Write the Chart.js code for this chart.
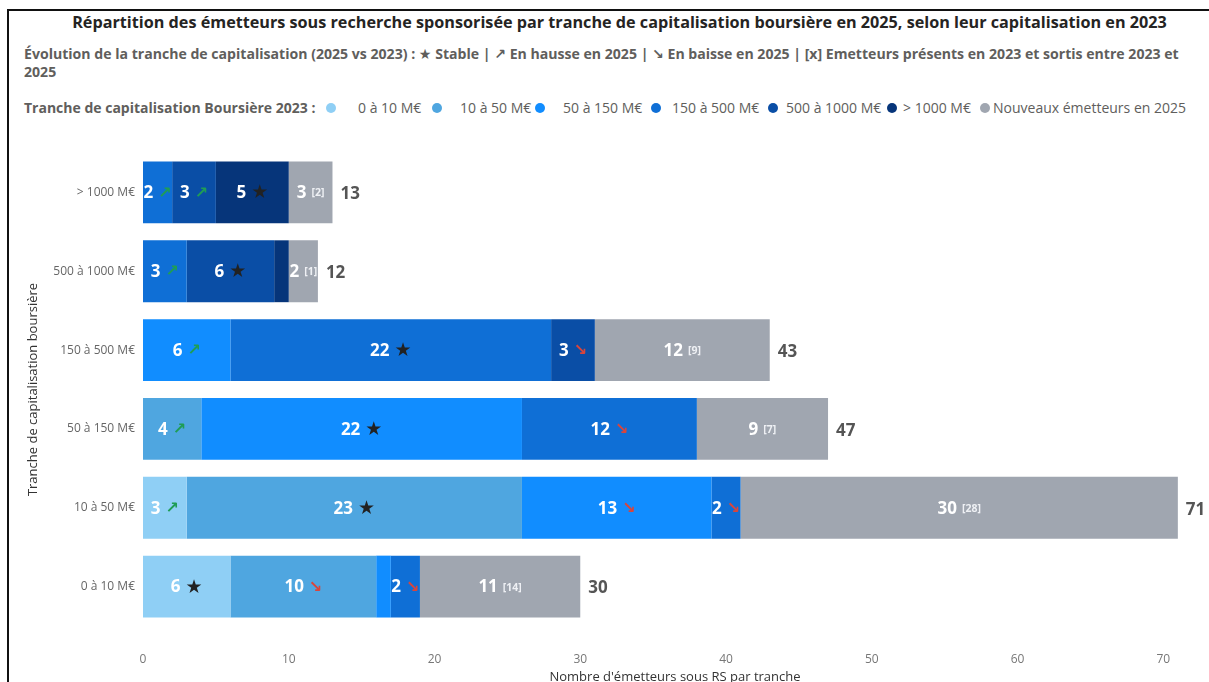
<!DOCTYPE html>
<html lang="fr">
<head>
<meta charset="utf-8">
<title>Répartition des émetteurs sous recherche sponsorisée</title>
<script src="https://cdn.jsdelivr.net/npm/chart.js@4.4.1/dist/chart.umd.min.js"></script>
<style>
  html, body { margin: 0; padding: 0; background: #fff; overflow: hidden; }
  body { width: 1209px; height: 682px; position: relative; font-family: "Open Sans", "Noto Sans", "DejaVu Sans", sans-serif; }
  #frame { position: absolute; left: 7px; top: 9px; width: 1210px; height: 700px; border-top: 2px solid #111; border-left: 2px solid #111; }
  #title { position: absolute; left: 30px; width: 1179px; top: 11px; text-align: center; font-size: 16.2px; font-weight: 700; color: #252423; white-space: nowrap; line-height: 22px; }
  #subtitle { position: absolute; left: 24px; top: 45px; font-size: 14.1px; font-weight: 700; color: #605e5c; line-height: 18px; white-space: nowrap; }
  #legend { position: absolute; left: 24px; top: 98px; height: 20px; width: 1180px; font-size: 14px; color: #605e5c; line-height: 20px; }
  #legend .lt { position: absolute; left: 0; font-weight: 700; white-space: nowrap; }
  #legend .dot { position: absolute; top: 5px; width: 10px; height: 10px; border-radius: 50%; }
  #legend .lbl { position: absolute; white-space: nowrap; }
  canvas { position: absolute; left: 0; top: 0; }
</style>
</head>
<body>
<div id="frame"></div>
<div id="title">Répartition des émetteurs sous recherche sponsorisée par tranche de capitalisation boursière en 2025, selon leur capitalisation en 2023</div>
<div id="subtitle">Évolution de la tranche de capitalisation (2025 vs 2023) : ★ Stable | ↗ En hausse en 2025 | ↘ En baisse en 2025 | [x] Emetteurs présents en 2023 et sortis entre 2023 et<br>2025</div>
<div id="legend"><span class="lt">Tranche de capitalisation Boursière 2023 :</span></div>
<canvas id="chart" width="1209" height="690"></canvas>
<script>
// categories = tranche 2025 (top to bottom)
const categories = ['> 1000 M€', '500 à 1000 M€', '150 à 500 M€', '50 à 150 M€', '10 à 50 M€', '0 à 10 M€'];

// series = tranche 2023
const tranches2023 = ['0 à 10 M€', '10 à 50 M€', '50 à 150 M€', '150 à 500 M€', '500 à 1000 M€', '> 1000 M€'];
const from0to10     = [0, 0, 0, 0, 3, 6];
const from10to50    = [0, 0, 0, 4, 23, 10];
const from50to150   = [0, 0, 6, 22, 13, 1];
const from150to500  = [2, 3, 22, 12, 2, 2];
const from500to1000 = [3, 6, 3, 0, 0, 0];
const fromOver1000  = [5, 1, 0, 0, 0, 0];
const newLabel = 'Nouveaux émetteurs en 2025';
const newIssuers    = [3, 2, 12, 9, 30, 11];
const exitedIssuers = [2, 1, 9, 7, 28, 14];   // [x] sortis entre 2023 et 2025

const xTicks = [0, 10, 20, 30, 40, 50, 60, 70];

const colors = ['#8fcff5', '#4fa6e0', '#118dff', '#0f6fd6', '#0a4ea6', '#06357a', '#a0a6b0'];
const FONT = '"Open Sans", "Noto Sans", "DejaVu Sans", sans-serif';

// legend (html)
const legendDotX = [302, 408, 511, 627, 744, 863, 956];
const legendTextX = [334, 436, 539, 648, 762, 879, 969];
const legendEl = document.getElementById('legend');
[...tranches2023, newLabel].forEach((name, i) => {
    const d = document.createElement('span');
    d.className = 'dot';
    d.style.left = legendDotX[i] + 'px';
    d.style.background = colors[i];
    legendEl.appendChild(d);
    const t = document.createElement('span');
    t.className = 'lbl';
    t.style.left = legendTextX[i] + 'px';
    t.textContent = name;
    legendEl.appendChild(t);
});

const seriesValues = [from0to10, from10to50, from50to150, from150to500, from500to1000, fromOver1000];
const datasets = tranches2023.map((name, i) => ({
    label: name, data: seriesValues[i], backgroundColor: colors[i], borderWidth: 0
}));
datasets.push({ label: newLabel, data: newIssuers, backgroundColor: colors[6], borderWidth: 0 });

// labels inside segments + totals
const segmentLabels = {
    id: 'segmentLabels',
    afterDatasetsDraw(chart) {
        const ctx = chart.ctx;
        const numFont = 'bold 17px ' + FONT;
        ctx.save();
        ctx.textBaseline = 'middle';
        ctx.textAlign = 'left';
        chart.data.datasets.forEach((ds, i) => {
            const meta = chart.getDatasetMeta(i);
            meta.data.forEach((bar, j) => {
                const v = ds.data[j];
                if (v < 2) return;
                let sym, symFont, symColor;
                if (i === tranches2023.length) {
                    sym = '[' + exitedIssuers[j] + ']';
                    symFont = 'bold 10.5px ' + FONT;
                    symColor = '#eef0f4';
                } else {
                    const rank2025 = categories.length - 1 - j;
                    if (i === rank2025) { sym = '★'; symFont = '19px "DejaVu Sans"'; symColor = '#222'; }
                    else if (i < rank2025) { sym = '↗'; symFont = 'bold 16px "DejaVu Sans"'; symColor = '#1f9d55'; }
                    else { sym = '↘'; symFont = 'bold 16px "DejaVu Sans"'; symColor = '#d9453b'; }
                }
                ctx.font = numFont;
                const w1 = ctx.measureText(String(v)).width;
                ctx.font = symFont;
                const w2 = ctx.measureText(sym).width;
                const gap = 5;
                const cx = (bar.x + bar.base) / 2;
                const x0 = cx - (w1 + gap + w2) / 2;
                ctx.font = numFont;
                ctx.fillStyle = '#ffffff';
                ctx.fillText(String(v), x0, bar.y + 1);
                ctx.font = symFont;
                ctx.fillStyle = symColor;
                ctx.fillText(sym, x0 + w1 + gap, bar.y + 1);
            });
        });
        // totals
        const lastMeta = chart.getDatasetMeta(chart.data.datasets.length - 1);
        ctx.font = 'bold 17px ' + FONT;
        ctx.fillStyle = '#555555';
        categories.forEach((c, j) => {
            const total = chart.data.datasets.reduce((s, ds) => s + ds.data[j], 0);
            const x = chart.scales.x.getPixelForValue(total) + 8;
            ctx.fillText(String(total), x, lastMeta.data[j].y + 2);
        });
        ctx.restore();
    }
};

new Chart(document.getElementById('chart'), {
    type: 'bar',
    data: { labels: categories, datasets: datasets },
    options: {
        responsive: false,
        animation: false,
        indexAxis: 'y',
        layout: { padding: { top: 153, right: 2, left: 0, bottom: 0 } },
        datasets: { bar: { categoryPercentage: 1, barPercentage: 0.785 } },
        plugins: { legend: { display: false }, tooltip: { enabled: false } },
        scales: {
            x: {
                stacked: true, min: 0, max: 73,
                grid: { display: false, drawTicks: false },
                border: { display: false },
                afterBuildTicks: s => { s.ticks = xTicks.map(v => ({ value: v })); },
                afterFit: s => { s.height = 64; },
                ticks: { color: '#777', font: { size: 12, family: FONT }, padding: 26 },
                title: { display: true, text: "Nombre d'émetteurs sous RS par tranche", color: '#333', font: { size: 13, family: FONT }, padding: { top: 0, bottom: 5 } }
            },
            y: {
                stacked: true,
                grid: { display: false, drawTicks: false },
                border: { display: false },
                afterFit: s => { s.width = 143; },
                ticks: { color: '#666', font: { size: 12, family: FONT }, padding: 8 },
                title: { display: true, text: 'Tranche de capitalisation boursière', color: '#333', font: { size: 13, family: FONT }, padding: { top: 25, bottom: 0 } }
            }
        }
    },
    plugins: [segmentLabels]
});
</script>
</body>
</html>
